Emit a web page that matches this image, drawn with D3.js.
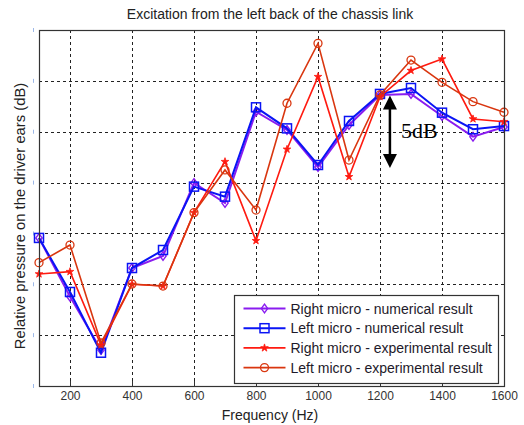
<!DOCTYPE html>
<html>
<head>
<meta charset="utf-8">
<script src="https://cdn.jsdelivr.net/npm/d3@7"></script>
<style>
  body { margin: 0; background: #fff; }
  text { font-family: Arial, "Liberation Sans", sans-serif; }
</style>
</head>
<body>
<script>
// frequencies (Hz)
const freqs = [100, 200, 300, 400, 500, 600, 700, 800, 900, 1000, 1100, 1200, 1300, 1400, 1500, 1600];
// relative pressure (dB)
const rightNumerical = [10.19, 6.15, 2.48, 8.12, 8.95, 13.97, 12.59, 18.88, 17.62, 15.07, 17.96, 20.03, 20.10, 18.58, 17.16, 17.82];
const leftNumerical = [10.19, 6.47, 2.29, 8.12, 9.36, 13.72, 13.03, 19.18, 17.73, 15.21, 18.24, 20.10, 20.51, 18.81, 17.67, 17.89];
const rightExperimental = [7.71, 7.87, 2.82, 7.00, 6.88, 11.93, 15.44, 10.00, 16.29, 21.29, 14.40, 19.91, 21.71, 22.50, 18.38, 18.19];
const leftExperimental = [8.49, 9.70, 2.96, 7.02, 6.88, 11.93, 14.87, 12.11, 19.46, 23.58, 15.55, 20.03, 22.43, 20.90, 19.57, 18.84];

const xTicks = [200, 400, 600, 800, 1000, 1200, 1400, 1600];
const xGrid = [200, 400, 600, 800, 1000, 1200, 1400];
const yGrid = [3.5, 7, 10.5, 14, 17.5, 21];
const yTicks = [0, 3.5, 7, 10.5, 14, 17.5, 21, 24.5];

const seriesNames = ["Right micro - numerical result", "Left micro - numerical result",
  "Right micro - experimental result", "Left micro - experimental result"];
const seriesValues = [rightNumerical, leftNumerical, rightExperimental, leftExperimental];

// 5 dB scale arrow
const arrowFreq = 1232;
const arrowRange = [15, 20];

const W = 524, H = 425;
const m = {left: 39, right: 20, top: 30, bottom: 39};

const svg = d3.select("body").append("svg").attr("width", W).attr("height", H);

const x = d3.scaleLinear().domain([100, 1600]).range([m.left, W - m.right]);
const y = d3.scaleLinear().domain([0, 24.5]).range([H - m.bottom, m.top]);

// grid
const grid = svg.append("g").attr("stroke", "#222").attr("stroke-width", 1).attr("stroke-dasharray", "3,3");
grid.selectAll("line.vx").data(xGrid).enter().append("line")
  .attr("x1", d => Math.round(x(d)) + 0.5).attr("x2", d => Math.round(x(d)) + 0.5)
  .attr("y1", y(24.5)).attr("y2", y(0));
grid.selectAll("line.hy").data(yGrid).enter().append("line")
  .attr("y1", d => Math.round(y(d)) + 0.5).attr("y2", d => Math.round(y(d)) + 0.5)
  .attr("x1", x(100)).attr("x2", x(1600));

// faint y tick marks left of the frame
svg.append("g").selectAll("line").data(yTicks).enter().append("line")
  .attr("x1", m.left - 5.5).attr("x2", m.left - 5.5)
  .attr("y1", d => y(d) - 2).attr("y2", d => y(d) + 2)
  .attr("stroke", "#9db8e8").attr("stroke-width", 1);

// x axis
const xAxis = svg.append("g").attr("transform", `translate(0,${y(0)})`)
  .call(d3.axisBottom(x).tickValues(xTicks).tickSize(0).tickPadding(5).tickFormat(d3.format("d")));
xAxis.select(".domain").remove();
xAxis.selectAll("text").attr("font-size", 12).attr("fill", "#333")
  .style("font-family", "Arial, 'Liberation Sans', sans-serif");
// inner tick marks along bottom
svg.append("g").selectAll("line").data(xGrid).enter().append("line")
  .attr("x1", d => Math.round(x(d)) + 0.5).attr("x2", d => Math.round(x(d)) + 0.5)
  .attr("y1", y(0)).attr("y2", y(0) - 5).attr("stroke", "#333");

// series
const colors = ["#8a1cf0", "#0a14f5", "#ff1a10", "#d9360f"];
const widths = [2, 2, 1.6, 1.6];
const line = d3.line().x((d, i) => x(freqs[i])).y(d => y(d));

const plot = svg.append("g");
seriesValues.forEach((vals, k) => {
  const g = plot.append("g");
  g.append("path").datum(vals).attr("d", line)
    .attr("fill", "none").attr("stroke", colors[k]).attr("stroke-width", widths[k]);
  drawMarkers(g, vals.map((v, i) => [x(freqs[i]), y(v)]), k);
});

function drawMarkers(g, pts, k) {
  const c = colors[k];
  if (k === 0) {
    g.selectAll("path.m").data(pts).enter().append("path")
      .attr("d", d3.symbol(d3.symbolDiamond2, 40))
      .attr("transform", d => `translate(${d[0]},${d[1]}) scale(0.8,1.1)`)
      .attr("fill", "none").attr("stroke", c).attr("stroke-width", 1.5);
  } else if (k === 1) {
    g.selectAll("rect").data(pts).enter().append("rect")
      .attr("x", d => d[0] - 4.5).attr("y", d => d[1] - 4.5)
      .attr("width", 9).attr("height", 9)
      .attr("fill", "none").attr("stroke", c).attr("stroke-width", 1.5);
  } else if (k === 2) {
    g.selectAll("path.m").data(pts).enter().append("path")
      .attr("d", d3.symbol(d3.symbolStar, 18))
      .attr("transform", d => `translate(${d[0]},${d[1]})`)
      .attr("fill", c).attr("stroke", c).attr("stroke-width", 0.8);
  } else {
    g.selectAll("circle").data(pts).enter().append("circle")
      .attr("cx", d => d[0]).attr("cy", d => d[1]).attr("r", 4)
      .attr("fill", "none").attr("stroke", c).attr("stroke-width", 1.3);
  }
}

// frame
svg.append("rect").attr("x", x(100) + 0.5).attr("y", y(24.5) + 0.5)
  .attr("width", x(1600) - x(100)).attr("height", y(0) - y(24.5))
  .attr("fill", "none").attr("stroke", "#333").attr("stroke-width", 1.2);

// legend
const lg = svg.append("g").attr("transform", "translate(234.5,295.5)");
lg.append("rect").attr("width", 264).attr("height", 88)
  .attr("fill", "#fff").attr("stroke", "#333").attr("stroke-width", 1.2);
seriesNames.forEach((name, k) => {
  const ry = 13 + k * 19.7;
  const row = lg.append("g");
  row.append("line").attr("x1", 9).attr("x2", 51).attr("y1", ry).attr("y2", ry)
    .attr("stroke", colors[k]).attr("stroke-width", widths[k]);
  drawMarkers(row, [[30, ry]], k);
  row.append("text").attr("x", 56).attr("y", ry + 5).text(name)
    .attr("font-size", 14).attr("fill", "#1e1a2a");
});

// title and axis labels
svg.append("text").attr("x", 270).attr("y", 19).attr("text-anchor", "middle")
  .attr("font-size", 14).attr("fill", "#222")
  .text("Excitation from the left back of the chassis link");
svg.append("text").attr("x", 270).attr("y", 420).attr("text-anchor", "middle")
  .attr("font-size", 14).attr("fill", "#222").text("Frequency (Hz)");
svg.append("text").attr("transform", "translate(25,216) rotate(-90)").attr("text-anchor", "middle")
  .attr("font-size", 14.8).attr("fill", "#222").text("Relative pressure on the driver ears (dB)");

// 5 dB arrow
const ax = x(arrowFreq);
const ya = y(arrowRange[1]), yb = y(arrowRange[0]);
svg.append("line").attr("x1", ax).attr("x2", ax).attr("y1", ya + 12).attr("y2", yb - 12)
  .attr("stroke", "#000").attr("stroke-width", 2.5);
svg.append("path").attr("d", `M${ax},${ya} L${ax - 7},${ya + 14} L${ax + 7},${ya + 14} Z`).attr("fill", "#000");
svg.append("path").attr("d", `M${ax},${yb} L${ax - 7},${yb - 14} L${ax + 7},${yb - 14} Z`).attr("fill", "#000");
svg.append("text").attr("x", ax + 11).attr("y", (ya + yb) / 2 + 6)
  .style("font-family", "'Liberation Serif', 'Times New Roman', serif")
  .attr("font-size", 22).attr("fill", "#000").text("5dB");
</script>
</body>
</html>
